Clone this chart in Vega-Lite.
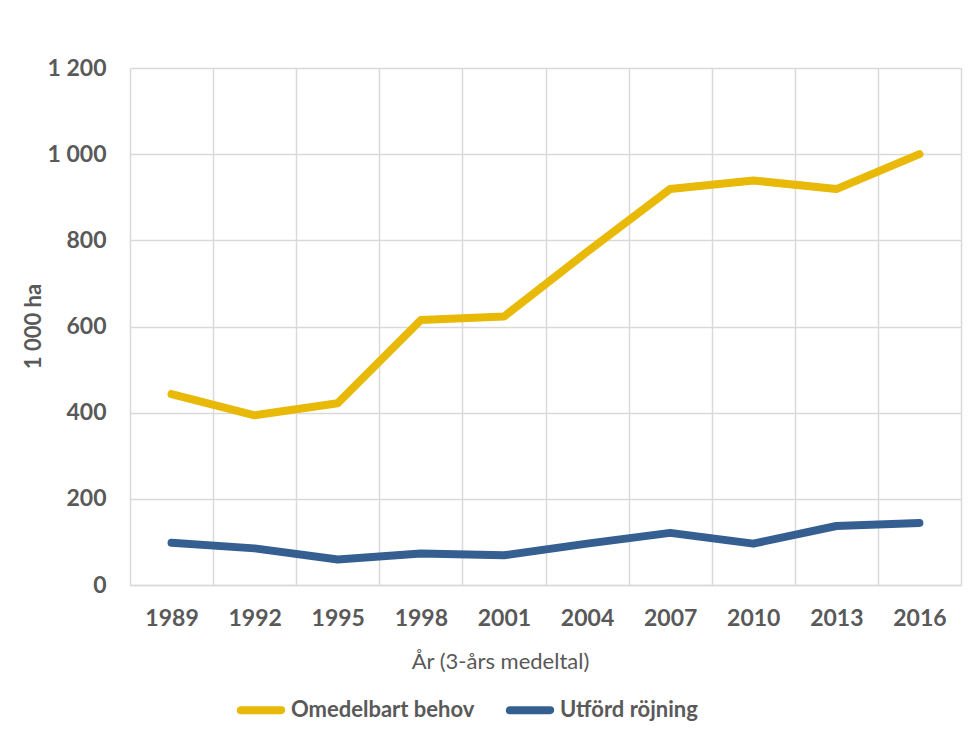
{
  "$schema": "https://vega.github.io/schema/vega-lite/v6.json",
  "width": 831,
  "height": 517,
  "autosize": {"type": "none"},
  "padding": {"left": 130, "top": 68, "right": 12, "bottom": 151},
  "background": "white",
  "config": {
    "font": "Lato",
    "view": {"stroke": null},
    "axis": {"labelColor": "#595959", "titleColor": "#595959", "labelFont": "Lato", "titleFont": "Lato"}
  },
  "data": {
    "values": [
      {"year": "1989", "serie": "Omedelbart behov", "value": 443},
      {"year": "1992", "serie": "Omedelbart behov", "value": 394},
      {"year": "1995", "serie": "Omedelbart behov", "value": 422},
      {"year": "1998", "serie": "Omedelbart behov", "value": 615},
      {"year": "2001", "serie": "Omedelbart behov", "value": 623},
      {"year": "2004", "serie": "Omedelbart behov", "value": 773},
      {"year": "2007", "serie": "Omedelbart behov", "value": 919},
      {"year": "2010", "serie": "Omedelbart behov", "value": 939},
      {"year": "2013", "serie": "Omedelbart behov", "value": 919},
      {"year": "2016", "serie": "Omedelbart behov", "value": 1000},
      {"year": "1989", "serie": "Utförd röjning", "value": 98},
      {"year": "1992", "serie": "Utförd röjning", "value": 85},
      {"year": "1995", "serie": "Utförd röjning", "value": 59},
      {"year": "1998", "serie": "Utförd röjning", "value": 73},
      {"year": "2001", "serie": "Utförd röjning", "value": 69},
      {"year": "2004", "serie": "Utförd röjning", "value": 96},
      {"year": "2007", "serie": "Utförd röjning", "value": 121},
      {"year": "2010", "serie": "Utförd röjning", "value": 96},
      {"year": "2013", "serie": "Utförd röjning", "value": 137},
      {"year": "2016", "serie": "Utförd röjning", "value": 144}
    ]
  },
  "mark": {"type": "line", "strokeWidth": 8, "strokeCap": "round", "strokeJoin": "round"},
  "encoding": {
    "x": {
      "field": "year",
      "type": "ordinal",
      "bandPosition": 0.5,
      "scale": {"type": "band", "paddingInner": 0, "paddingOuter": 0},
      "axis": {
        "title": "År (3-års medeltal)",
        "labelAngle": 0,
        "labelFontSize": 23,
        "labelFontWeight": "bold",
        "labelPadding": 22,
        "ticks": false,
        "tickBand": "extent",
        "grid": true,
        "gridColor": "#d9d9d9",
        "gridWidth": 1.5,
        "domainColor": "#d9d9d9",
        "domainWidth": 1.5,
        "titleFontSize": 22,
        "titleFontWeight": "normal",
        "titleX": 370,
        "titleY": 76,
        "titleBaseline": "middle",
        "titleAlign": "center"
      }
    },
    "y": {
      "field": "value",
      "type": "quantitative",
      "scale": {"domain": [0, 1200], "nice": false},
      "axis": {
        "title": "1 000 ha",
        "values": [0, 200, 400, 600, 800, 1000, 1200],
        "labelExpr": "replace(format(datum.value, ','), ',', ' ')",
        "labelFontSize": 23,
        "labelFontWeight": "bold",
        "labelPadding": 24,
        "ticks": false,
        "domain": false,
        "grid": true,
        "gridColor": "#d9d9d9",
        "gridWidth": 1.5,
        "titleFontSize": 22,
        "titleFontWeight": "bold",
        "titleAngle": -90,
        "titleX": -97,
        "titleY": 258,
        "titleAlign": "center",
        "titleBaseline": "middle"
      }
    },
    "color": {
      "field": "serie",
      "type": "nominal",
      "scale": {"domain": ["Omedelbart behov", "Utförd röjning"], "range": ["#E8B907", "#355F91"]},
      "legend": {
        "title": null,
        "orient": "none",
        "direction": "horizontal",
        "legendX": 105,
        "legendY": 616,
        "symbolType": "M -0.9 -0.02 L 0.9 -0.02 A 0.02 0.02 0 0 1 0.9 0.02 L -0.9 0.02 A 0.02 0.02 0 0 1 -0.9 -0.02 Z",
        "symbolSize": 2025,
        "symbolStrokeWidth": 7,
        "labelFontSize": 22,
        "labelFontWeight": "bold",
        "labelColor": "#595959",
        "labelOffset": 4,
        "columnPadding": 20,
        "labelLimit": 300
      }
    }
  }
}
